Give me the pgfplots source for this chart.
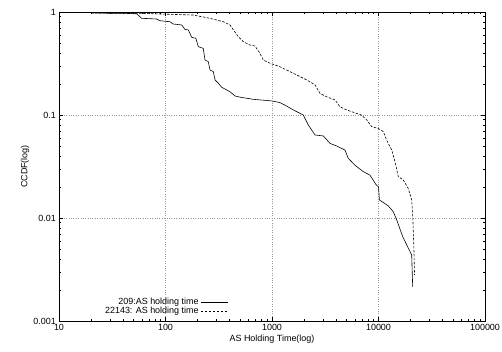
\documentclass[border=0pt]{standalone}
\usepackage{pgfplots}
\pgfplotsset{compat=1.18}
\usepackage{fontspec}
\setmainfont{Liberation Sans}
\begin{document}
\fontsize{9}{10}\selectfont
\begin{tikzpicture}
\begin{axis}[
  name=ax,
  xmode=log, ymode=log,
  scale only axis,
  width=426bp, height=309bp,
  xmin=10, xmax=100000, ymin=0.001, ymax=1,
  xtick={10,100,1000,10000,100000},
  xticklabels={10,100,1000,10000,100000},
  ytick={0.001,0.01,0.1,1},
  yticklabels={0.001,0.01,0.1,1},
  minor x tick num=8, minor y tick num=8,
  tick align=inside,
  major tick length=4bp, minor tick length=2bp,
  tick style={black, line width=0.5pt},
  axis line style={line width=0.9pt},
  xmajorgrids, ymajorgrids,
  major grid style={dotted, gray!80, line width=0.5pt},
  xlabel={AS Holding Time(log)},
  ylabel={CCDF(log)},
  xlabel style={yshift=2bp},
  ylabel style={yshift=-2bp},
  tick label style={font=\fontsize{9}{10}\selectfont},
  label style={font=\fontsize{9}{10}\selectfont},
  legend plot pos=right,
  legend cell align=right,
  legend style={at={(0.40,0.01)}, anchor=south east, draw=none, fill=none,
    font=\fontsize{9}{10}\selectfont, row sep=-3pt, inner sep=1pt},
  legend image code/.code={\draw[#1] (0bp,0bp) -- (27bp,0bp);},
]
\addplot[black, line width=0.6pt] coordinates {
(20,0.975) (40,0.972) (53.7,0.96) (59.7,0.869) (82.6,0.855) (88.7,0.823)
(110,0.805) (118,0.765) (142,0.748) (152,0.679) (164,0.669) (176,0.568)
(193,0.555) (203,0.461) (226,0.444) (235,0.342) (252,0.330) (262,0.273)
(281,0.264) (292,0.219) (314,0.203) (337,0.186) (404,0.168) (450,0.153)
(501,0.149) (667,0.142) (993,0.137) (1189,0.132) (1374,0.122) (1585,0.112)
(1967,0.100) (2193,0.080) (2535,0.064) (3035,0.0626) (3506,0.053) (4053,0.050)
(4842,0.0457) (5200,0.038) (6000,0.0326) (7200,0.0282) (8310,0.0261) (9500,0.021)
(10000,0.0201) (10190,0.0150) (12360,0.0131) (13770,0.0115) (14820,0.0096)
(16870,0.0066) (20500,0.00437) (20940,0.00215)
};
\addlegendentry{209:AS holding time}
\addplot[black, line width=0.6pt, dash pattern=on 2.5bp off 1.5bp] coordinates {
(20,0.98) (40,0.975) (60,0.97) (110,0.95) (182,0.935) (262,0.868) (349,0.805) (404,0.748)
(434,0.669) (483,0.576) (538,0.515) (621,0.478) (692,0.468) (771,0.397)
(828,0.342) (957,0.318) (1189,0.294) (1374,0.273) (1706,0.245) (2118,0.219)
(2535,0.196) (2826,0.162) (3266,0.150) (3909,0.140) (4350,0.120) (5020,0.112)
(6000,0.105) (6900,0.100) (7800,0.089) (8630,0.077) (9950,0.074) (11100,0.069)
(11930,0.057) (13300,0.0457) (14300,0.0352) (15350,0.0252) (17100,0.0234)
(19000,0.0194) (20500,0.0150) (21000,0.010) (21500,0.005) (21800,0.0028)
};
\addlegendentry{22143: AS holding time}
\end{axis}
\pgfresetboundingbox
\path ([shift={(-59bp,-31bp)}]ax.south west) rectangle ([shift={(17bp,12bp)}]ax.north east);
\end{tikzpicture}
\end{document}
